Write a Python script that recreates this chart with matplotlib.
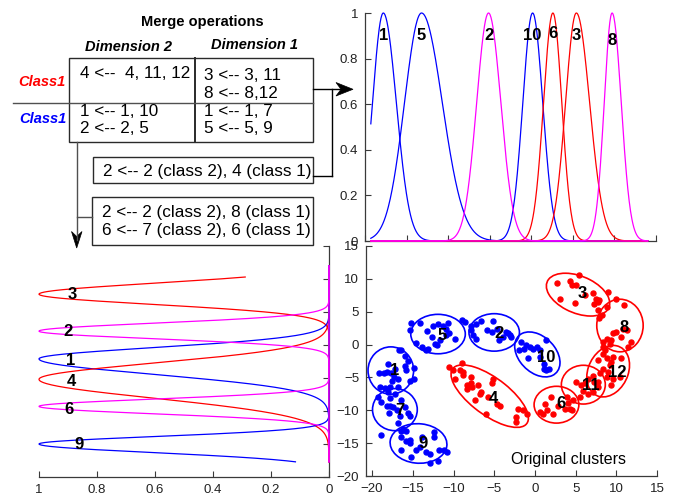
import numpy as np
import matplotlib
matplotlib.use('Agg')
import matplotlib.pyplot as plt
from matplotlib.patches import Ellipse, Rectangle, Polygon

plt.rcParams['font.family'] = ['Liberation Sans', 'DejaVu Sans']

COL = {'b': '#0000ff', 'r': '#ff0000', 'm': '#ff00ff'}
AXC = '#3a3a3a'

# ---------------- Top panel: dimension-1 densities of merged clusters
d1_labels = ['1', '5', '2', '10', '6', '3', '8']
d1_colors = ['b', 'b', 'm', 'b', 'r', 'r', 'm']
d1_center = [-17.8, -13.2, -5.14, 0.16, 2.6, 5.42, 9.72]
d1_sig_left = [1.3, 2.05, 1.43, 1.18, 1.13, 1.3, 0.95]
d1_sig_right = [1.57, 2.5, 1.48, 1.22, 1.07, 1.6, 1.1]
d1_label_y = [0.9, 0.9, 0.9, 0.9, 0.91, 0.9, 0.88]
d1_range = (-19.3, 14.0)

# ---------------- Bottom-left panel: dimension-2 densities
d2_labels = ['3', '2', '1', '4', '6', '9']
d2_colors = ['r', 'm', 'b', 'r', 'm', 'b']
d2_center = [7.7, 2.1, -2.1, -5.2, -9.3, -15.0]
d2_sig_low = [1.55, 1.15, 2.35, 2.85, 1.12, 1.3]
d2_sig_high = [1.65, 1.2, 1.7, 2.45, 1.1, 1.12]
d2_top = [10.3, 12.0, 12.0, 12.0, 12.0, 12.0]
d2_bottom = -17.7
d2_label_x = [0.887, 0.899, 0.89, 0.887, 0.897, 0.862]
d2_label_y = [7.6, 2.0, -2.4, -5.6, -9.7, -15.1]

# ---------------- Scatter: original clusters
c1 = [(-16.7,-0.8),(-15.9,-1.7),(-15.6,-2.5),(-14.9,-3.5),(-14.9,-5.2),(-15.3,-5.5),(-16.0,-3.2),(-17.2,-3.7),(-18.1,-2.9),(-18.6,-4.3),(-19.1,-4.4),(-17.7,-4.3),(-17.3,-5.0),(-16.8,-5.2),(-17.6,-5.6),(-19.0,-6.5),(-18.4,-6.6),(-17.8,-6.4),(-16.8,-6.5),(-18.0,-7.2),(-15.8,-3.9),(-18.2,-4.2),(-16.4,-0.9)]
c7 = [(-19.3,-8.0),(-18.9,-8.7),(-17.8,-8.2),(-17.2,-7.5),(-16.4,-8.5),(-17.8,-9.3),(-17.4,-9.5),(-17.0,-9.9),(-17.9,-10.4),(-16.0,-9.5),(-15.6,-10.4),(-15.4,-10.8),(-16.8,-11.9),(-16.2,-12.8),(-18.9,-13.8),(-18.2,-9.3),(-16.6,-10.8)]
c9 = [(-16.4,-13.1),(-15.8,-13.1),(-16.4,-14.1),(-15.8,-14.6),(-15.3,-14.5),(-15.4,-15.0),(-13.9,-14.1),(-12.4,-13.3),(-12.4,-14.1),(-16.5,-16.1),(-15.2,-17.1),(-14.6,-16.1),(-13.4,-16.4),(-12.9,-16.6),(-12.9,-18.0),(-11.9,-17.7),(-11.8,-16.1),(-11.2,-16.1),(-10.8,-16.4),(-14.1,-15.6)]
c5 = [(-15.2,3.3),(-15.4,2.2),(-14.6,0.25),(-13.9,-0.4),(-13.4,-0.9),(-13.1,-0.6),(-13.2,2.0),(-12.5,2.8),(-11.9,3.1),(-11.3,2.9),(-10.7,3.3),(-10.9,2.3),(-12.3,0.15),(-11.7,0.7),(-10.9,1.4),(-10.5,1.7),(-9.8,0.9),(-9.0,3.7),(-8.6,3.5),(-12.0,-0.1),(-12.7,1.2),(-14.1,3.3)]
c2 = [(-7.8,2.8),(-7.2,3.1),(-6.6,3.6),(-5.1,3.6),(-7.8,2.2),(-7.6,1.4),(-7.2,0.9),(-4.7,2.4),(-4.4,0.7),(-3.5,1.9),(-3.1,1.4),(-2.9,1.1),(-3.9,1.1),(-5.3,1.9),(-5.9,2.2),(-3.3,1.7)]
c10 = [(-1.7,0.4),(-1.1,-0.1),(-0.6,-0.4),(-0.2,-0.6),(0.2,-0.4),(0.6,-0.9),(-1.9,-0.9),(-0.8,-2.1),(1.4,0.7),(1.1,-2.9),(1.1,-3.7),(1.4,-3.9),(1.7,-3.7),(-1.3,-0.6),(0.6,-1.9)]
c4 = [(-10.5,-3.4),(-10.1,-3.9),(-8.9,-2.8),(-9.2,-3.8),(-8.8,-4.2),(-9.8,-5.2),(-8.8,-4.7),(-7.8,-4.9),(-7.8,-5.8),(-8.4,-6.2),(-7.7,-6.5),(-7.0,-6.2),(-5.2,-5.2),(-5.3,-5.9),(-6.6,-7.2),(-6.8,-7.5),(-5.8,-8.0),(-4.7,-9.1),(-4.3,-9.4),(-6.0,-10.5),(-2.1,-9.8),(-1.5,-9.9),(-1.0,-10.5),(-2.3,-11.0),(-2.3,-11.8),(-8.4,-6.7),(-7.35,-8.4)]
c6 = [(2.0,-8.0),(1.3,-9.0),(0.6,-10.3),(1.0,-10.5),(1.5,-10.0),(2.2,-10.5),(2.8,-9.3),(3.9,-8.0),(4.1,-8.9),(4.3,-9.8),(4.5,-10.0),(4.7,-8.5),(3.7,-9.8)]
c11 = [(5.1,-5.7),(5.7,-6.2),(6.1,-5.9),(6.5,-5.2),(7.1,-4.8),(7.3,-5.7),(7.1,-7.2),(6.5,-7.5),(5.9,-7.0),(7.7,-6.5),(5.5,-8.0)]
c12 = [(7.8,-2.4),(8.4,-1.4),(8.6,-0.9),(8.8,-2.1),(9.4,-2.6),(9.6,-1.9),(10.6,-2.1),(8.4,-3.7),(9.0,-4.2),(8.0,-4.4),(8.8,-4.9),(9.6,-5.2),(10.4,-4.9),(9.4,-6.2),(7.8,-5.7),(9.2,-3.1)]
c8 = [(8.2,4.5),(7.9,4.0),(8.8,5.7),(10.0,7.0),(11.0,6.0),(11.3,2.2),(10.8,2.4),(10.0,1.9),(9.6,1.7),(8.8,0.9),(9.4,0.7),(8.4,0.4),(10.6,1.2),(11.8,0.4),(11.4,-0.4),(8.4,-0.4),(9.2,0.15)]
c3 = [(2.7,9.3),(3.1,7.0),(4.3,9.6),(4.6,9.0),(5.1,9.0),(5.4,10.6),(4.9,6.3),(7.1,7.8),(7.5,6.9),(7.7,6.5),(7.9,6.8),(7.7,5.2),(9.0,8.0),(6.1,7.5),(7.2,6.2)]

cl_names = ['1', '7', '9', '5', '2', '10', '4', '6', '11', '12', '8', '3']
cl_points = [c1, c7, c9, c5, c2, c10, c4, c6, c11, c12, c8, c3]
cl_colors = ['b', 'b', 'b', 'b', 'b', 'b', 'r', 'r', 'r', 'r', 'r', 'r']
ell_cx = [-17.7, -17.2, -14.3, -11.9, -5.0, 0.3, -5.55, 2.65, 5.95, 9.0, 10.45, 5.3]
ell_cy = [-3.95, -9.9, -15.05, 1.6, 1.85, -1.5, -7.85, -9.15, -6.1, -4.05, 2.9, 7.6]
ell_w = [5.6, 5.5, 7.0, 6.7, 6.2, 7.4, 12.4, 5.5, 5.4, 8.0, 5.7, 8.6]
ell_h = [7.2, 6.4, 6.0, 6.0, 5.7, 4.8, 5.2, 5.6, 5.9, 5.0, 8.0, 5.4]
ell_ang = [0, 0, -8, 0, 0, -60, -45, 0, 0, 75, 0, -33]
lab_x = [-17.2, -16.6, -13.7, -11.4, -4.4, 1.4, -5.1, 3.2, 6.9, 10.1, 10.9, 5.8]
lab_y = [-3.9, -10.0, -15.1, 1.4, 1.7, -1.9, -8.2, -9.0, -6.2, -4.2, 2.6, 7.7]

ticks_2d = list(range(-20, 16, 5))


def asym_gauss(t, c, sl, sr):
    s = np.where(t < c, sl, sr)
    return np.exp(-0.5 * ((t - c) / s) ** 2)


def style(ax, show):
    for sp in ['left', 'right', 'top', 'bottom']:
        ax.spines[sp].set_visible(sp in show)
        ax.spines[sp].set_color(AXC)
        ax.spines[sp].set_linewidth(0.9)
    ax.tick_params(direction='in', length=4, width=0.8, color=AXC,
                   labelcolor='#222222', labelsize=9.5, pad=5)


fig = plt.figure(figsize=(6.78, 4.98), dpi=100)
W, H = 678.0, 498.0

# ---- top panel
ax_top = fig.add_axes([365 / W, 1 - 241 / H, 291 / W, 228 / H])
style(ax_top, ['left', 'bottom'])
t1 = np.linspace(d1_range[0], d1_range[1], 600)
order = [i for i in range(len(d1_labels)) if d1_colors[i] != 'm'] + \
        [i for i in range(len(d1_labels)) if d1_colors[i] == 'm']
for i in order:
    yv = asym_gauss(t1, d1_center[i], d1_sig_left[i], d1_sig_right[i])
    ax_top.plot(t1, yv, color=COL[d1_colors[i]], lw=0.9, clip_on=False, zorder=3)
for i in range(len(d1_labels)):
    ax_top.text(d1_center[i], d1_label_y[i], d1_labels[i], ha='center', va='center',
                fontsize=12, fontweight='bold', zorder=5)
ax_top.set_xlim(-20, 15)
ax_top.set_ylim(0, 1)
ax_top.set_xticks(ticks_2d)
ax_top.set_xticklabels([])
ax_top.set_yticks([0, 0.2, 0.4, 0.6, 0.8, 1])
ax_top.set_yticklabels(['0', '0.2', '0.4', '0.6', '0.8', '1'])

# ---- scatter panel
ax_sc = fig.add_axes([366 / W, 1 - 476 / H, 291 / W, 230 / H])
style(ax_sc, ['left', 'bottom'])
for k in range(len(cl_names)):
    pts = np.array(cl_points[k])
    c = COL[cl_colors[k]]
    ax_sc.plot(pts[:, 0], pts[:, 1], 'o', ms=3.6, color=c, mec=c, zorder=3)
    ax_sc.add_patch(Ellipse((ell_cx[k], ell_cy[k]), ell_w[k], ell_h[k], angle=ell_ang[k],
                            fill=False, ec=c, lw=1.2, zorder=4))
    ax_sc.text(lab_x[k], lab_y[k], cl_names[k], ha='center', va='center',
               fontsize=12, fontweight='bold', zorder=6)
ax_sc.text(4.13, -17.5, 'Original clusters', ha='center', va='center', fontsize=11.5)
ax_sc.set_xlim(-20.75, 15)
ax_sc.set_ylim(-20, 15)
ax_sc.set_xticks(ticks_2d)
ax_sc.set_yticks(ticks_2d)

# ---- bottom-left panel
ax_l = fig.add_axes([39 / W, 1 - 477 / H, 290 / W, 231 / H])
style(ax_l, ['right', 'bottom'])
ax_l.yaxis.tick_right()
order2 = [i for i in range(len(d2_labels)) if d2_colors[i] != 'm'] + \
         [i for i in range(len(d2_labels)) if d2_colors[i] == 'm']
for i in order2:
    t2 = np.linspace(d2_bottom, d2_top[i], 600)
    xv = asym_gauss(t2, d2_center[i], d2_sig_low[i], d2_sig_high[i])
    ax_l.plot(xv, t2, color=COL[d2_colors[i]], lw=0.9, clip_on=False, zorder=3)
for i in range(len(d2_labels)):
    ax_l.text(d2_label_x[i], d2_label_y[i], d2_labels[i], ha='center', va='center',
              fontsize=12, fontweight='bold', zorder=5)
ax_l.set_xlim(1, 0)
ax_l.set_ylim(-20, 15)
ax_l.set_xticks([1, 0.8, 0.6, 0.4, 0.2, 0])
ax_l.set_xticklabels(['1', '0.8', '0.6', '0.4', '0.2', '0'])
ax_l.set_yticks(ticks_2d)
ax_l.set_yticklabels([])

# ---- overlay with the merge-operation table (pixel coordinates)
ov = fig.add_axes([0, 0, 1, 1], zorder=10)
ov.set_xlim(0, W)
ov.set_ylim(H, 0)
ov.axis('off')
ov.patch.set_alpha(0)
GR = '#505050'

ov.text(202.5, 22, 'Merge operations', ha='center', va='center', fontsize=10.5,
        fontweight='bold')
ov.text(128.5, 47, 'Dimension 2', ha='center', va='center', fontsize=10.5,
        fontweight='bold', style='italic')
ov.text(254.5, 45, 'Dimension 1', ha='center', va='center', fontsize=10.5,
        fontweight='bold', style='italic')
ov.text(41.5, 82, 'Class1', ha='center', va='center', fontsize=10.5,
        fontweight='bold', style='italic', color=COL['r'])
ov.text(42.5, 119, 'Class1', ha='center', va='center', fontsize=10.5,
        fontweight='bold', style='italic', color=COL['b'])

ov.add_patch(Rectangle((69.3, 58.3), 312.7 - 69.3, 141.7 - 58.3, fill=False, ec='#2a2a2a', lw=1.0))
ov.plot([195, 195], [58.3, 141.7], color='#2a2a2a', lw=1.4)
ov.plot([12.7, 312.7], [103.3, 103.3], color=GR, lw=1.0)

fs = 12.3
ov.text(80, 73, '4 <--  4, 11, 12', ha='left', va='center', fontsize=fs)
ov.text(204, 75, '3 <-- 3, 11', ha='left', va='center', fontsize=fs)
ov.text(204, 93, '8 <-- 8,12', ha='left', va='center', fontsize=fs)
ov.text(80, 111, '1 <-- 1, 10', ha='left', va='center', fontsize=fs)
ov.text(80, 128.5, '2 <-- 2, 5', ha='left', va='center', fontsize=fs)
ov.text(204, 111, '1 <-- 1, 7', ha='left', va='center', fontsize=fs)
ov.text(204, 128.5, '5 <-- 5, 9', ha='left', va='center', fontsize=fs)

ov.add_patch(Rectangle((93.3, 156.7), 312.7 - 93.3, 182.7 - 156.7, fill=False, ec='#2a2a2a', lw=1.0))
ov.text(102.7, 171, '2 <-- 2 (class 2), 4 (class 1)', ha='left', va='center', fontsize=fs)
ov.add_patch(Rectangle((91.7, 197.3), 312.7 - 91.7, 244.5 - 197.3, fill=False, ec='#2a2a2a', lw=1.0))
ov.text(101.7, 212, '2 <-- 2 (class 2), 8 (class 1)', ha='left', va='center', fontsize=fs)
ov.text(101.7, 230, '6 <-- 7 (class 2), 6 (class 1)', ha='left', va='center', fontsize=fs)

# connectors
ov.plot([312.7, 342], [89.3, 89.3], color='black', lw=1.0)
ov.plot([332, 332], [89.3, 176], color='black', lw=1.0)
ov.plot([312.7, 332], [176, 176], color='black', lw=1.0)
ov.add_patch(Polygon([(353, 89.3), (336, 82.5), (341, 89.3), (336, 96)], closed=True,
                     fc='black', ec='black', lw=0.5))
ov.plot([76.7, 76.7], [141.7, 240], color=GR, lw=1.0)
ov.plot([76.7, 91.7], [216.5, 216.5], color=GR, lw=1.0)
ov.add_patch(Polygon([(76.7, 248), (71.5, 231.5), (76.7, 236.5), (82, 231.5)], closed=True,
                     fc='black', ec='black', lw=0.5))

fig.savefig('out.png', dpi=100)
